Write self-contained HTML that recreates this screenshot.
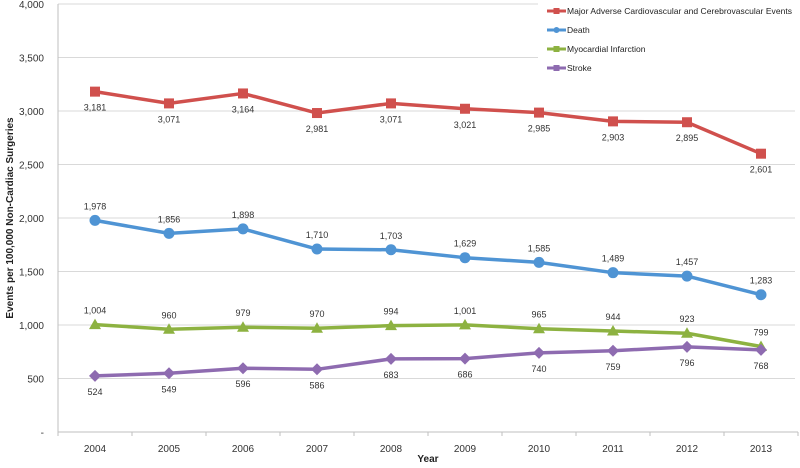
<!DOCTYPE html>
<html><head><meta charset="utf-8"><style>
body{margin:0;background:#fff;}
svg{display:block;font-family:"Liberation Sans",sans-serif;}
</style></head><body>
<svg id="chart" width="800" height="468"></svg>
<script>
const years=["2004","2005","2006","2007","2008","2009","2010","2011","2012","2013"];
const mace=[3181,3071,3164,2981,3071,3021,2985,2903,2895,2601];
const death=[1978,1856,1898,1710,1703,1629,1585,1489,1457,1283];
const mi=[1004,960,979,970,994,1001,965,944,923,799];
const stroke=[524,549,596,586,683,686,740,759,796,768];
const yTicks=[0,500,1000,1500,2000,2500,3000,3500,4000];
const yTickLabels=["-","500","1,000","1,500","2,000","2,500","3,000","3,500","4,000"];
const seriesNames=["Major Adverse Cardiovascular and Cerebrovascular Events","Death","Myocardial Infarction","Stroke"];

const NS="http://www.w3.org/2000/svg";
const svg=document.getElementById('chart');
const X0=58,X1=798,Y0=432,Y1=4;
const step=(X1-X0)/years.length;
function xs(i){return X0+step*(i+0.5);}
function ys(v){return Y0-(v/4000)*(Y0-Y1);}
function mk(tag,attrs,parent){const e=document.createElementNS(NS,tag);for(const k in attrs)e.setAttribute(k,attrs[k]);(parent||svg).appendChild(e);return e;}
function fmt(v){return v.toLocaleString('en-US');}

yTicks.forEach((t,i)=>{
  const y=ys(t);
  if(t>0){const g=mk('line',{x1:X0,x2:X1-3,y1:y,y2:y,stroke:'#d9d9d9','stroke-width':1});
  
  }
  const l=mk('text',{x:44,y:y+4,'text-anchor':'end','font-size':10,fill:'#333'});
  l.textContent=yTickLabels[i];
  
  
});
const ya=mk('line',{x1:X0,x2:X0,y1:Y1,y2:Y0,stroke:'#bfbfbf'});


const xa=mk('line',{x1:X0,x2:X1,y1:Y0,y2:Y0,stroke:'#bfbfbf'});


for(let i=0;i<=years.length;i++){
  const tk=mk('line',{x1:X0+step*i,x2:X0+step*i,y1:Y0,y2:Y0+4,stroke:'#bfbfbf'});
  
  
}
years.forEach((yr,i)=>{
  const t=mk('text',{x:xs(i),y:Y0+20,'text-anchor':'middle','font-size':10,fill:'#333'});
  t.textContent=yr;
  
  
});
const xt=mk('text',{x:428,y:462,'text-anchor':'middle','font-size':10,'font-weight':'bold',fill:'#222'});
xt.textContent='Year';


const yt=mk('text',{x:0,y:0,'text-anchor':'middle','font-size':10,'font-weight':'bold',fill:'#222',transform:'translate(13,218) rotate(-90)'});
yt.textContent='Events per 100,000 Non-Cardiac Surgeries';



function marker(g,type,x,y,c){
  if(type==='square')return mk('rect',{x:x-5,y:y-5,width:10,height:10,fill:c},g);
  if(type==='circle')return mk('circle',{cx:x,cy:y,r:5.5,fill:c},g);
  if(type==='tri')return mk('polygon',{points:`${x},${y-6} ${x+6},${y+4.5} ${x-6},${y+4.5}`,fill:c},g);
  return mk('polygon',{points:`${x},${y-6} ${x+6},${y} ${x},${y+6} ${x-6},${y}`,fill:c},g);
}
const series=[
  {d:mace,c:'#d0504d',m:'square',above:false,n:'mace'},
  {d:death,c:'#4f94d4',m:'circle',above:true,n:'death'},
  {d:mi,c:'#8db241',m:'tri',above:true,n:'mi'},
  {d:stroke,c:'#8e6bb0',m:'diamond',above:false,n:'stroke'}
];
series.forEach((s,si)=>{
  const g=mk('g',{});
  
  
  const pl=mk('polyline',{points:s.d.map((v,i)=>xs(i)+','+ys(v)).join(' '),fill:'none',stroke:s.c,'stroke-width':3.5,'stroke-linejoin':'round'},g);
  
  
  s.d.forEach((v,i)=>{
    const m=marker(g,s.m,xs(i),ys(v),s.c);
    
    
    const lb=mk('text',{x:xs(i),y:s.above?ys(v)-11:ys(v)+19,'text-anchor':'middle','font-size':9,fill:'#333'},g);
    lb.textContent=fmt(v);
    
    
  });
  const ly=11+si*19;
  const lg=mk('g',{});
  
  
  mk('rect',{x:538,y:0+si*19,width:262,height:19,fill:'#fff'},lg);
  mk('line',{x1:547,x2:566,y1:ly,y2:ly,stroke:s.c,'stroke-width':3},lg);
  const mm=s.m==='circle'?mk('circle',{cx:556.5,cy:ly,r:3,fill:s.c},lg):mk('rect',{x:553.5,y:ly-3,width:6,height:6,fill:s.c},lg);
  const lt=mk('text',{x:567,y:ly+3,'font-size':8.5,fill:'#222'},lg);
  lt.textContent=seriesNames[si];
  if(si===0)lt.setAttribute('textLength','225');
});
</script>
</body></html>
